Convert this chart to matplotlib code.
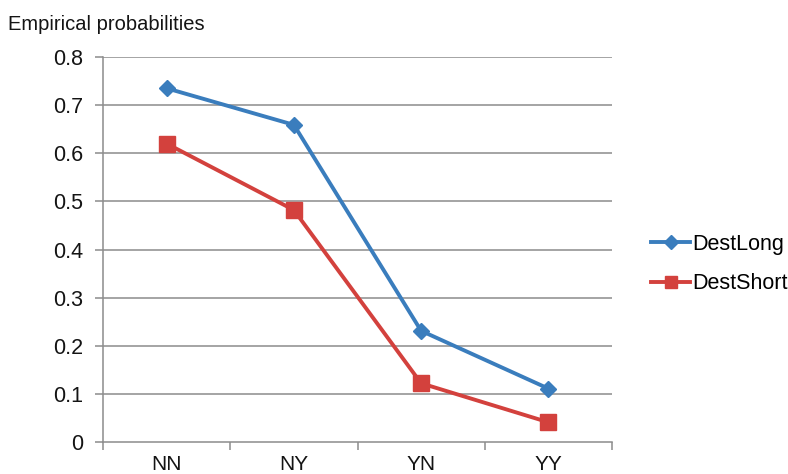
import matplotlib
matplotlib.use("Agg")
import matplotlib.pyplot as plt
import numpy as np

plt.rcParams['font.family'] = ['Liberation Sans', 'DejaVu Sans']

categories = ["NN", "NY", "YN", "YY"]
dest_long = [0.735, 0.659, 0.231, 0.111]
dest_short = [0.620, 0.482, 0.122, 0.041]
y_ticks = [0, 0.1, 0.2, 0.3, 0.4, 0.5, 0.6, 0.7, 0.8]
y_ticklabels = ["0", "0.1", "0.2", "0.3", "0.4", "0.5", "0.6", "0.7", "0.8"]

fig = plt.figure(figsize=(7.88, 4.74), dpi=100)
ax = fig.add_axes([103 / 788, 32 / 474, 509 / 788, 385 / 474])

grid_col = "#8c8c8c"
text_col = "#141414"
x = np.arange(len(categories))

for yv in y_ticks[1:]:
    ax.axhline(yv, color=grid_col, lw=1.1, zorder=1)

ax.plot(x, dest_long, color="#3a7dbd", lw=2.8, marker="D", ms=8.5,
        label="DestLong", zorder=3)
ax.plot(x, dest_short, color="#d3413d", lw=2.8, marker="s", ms=11,
        label="DestShort", zorder=3)

ax.set_xlim(-0.5, len(categories) - 0.5)
ax.set_ylim(0, 0.8)

for s in ["top", "right"]:
    ax.spines[s].set_visible(False)
for s in ["left", "bottom"]:
    ax.spines[s].set_color(grid_col)
    ax.spines[s].set_linewidth(1.1)

ax.set_yticks(y_ticks)
ax.set_yticklabels(y_ticklabels, fontsize=15.5, color=text_col)
ax.tick_params(axis="y", direction="out", length=6, width=1.1, color=grid_col, pad=8)

ax.set_xticks(x)
ax.set_xticklabels(categories, fontsize=15, color=text_col)
ax.tick_params(axis="x", which="major", length=0, pad=9)
ax.set_xticks(np.arange(-0.5, len(categories)), minor=True)
ax.tick_params(axis="x", which="minor", direction="out", length=6, width=1.1, color=grid_col)

fig.text(8 / 788, 1 - 24 / 474, "Empirical probabilities", fontsize=14.5,
         color=text_col, va="center", ha="left")

fig.legend(loc="center left", bbox_to_anchor=(632 / 788, 1 - 264 / 474),
           frameon=False, fontsize=15.5, handlelength=1.8, handletextpad=0.1,
           labelspacing=0.85, markerscale=0.85)

fig.savefig("out.png", dpi=100, facecolor="white")
